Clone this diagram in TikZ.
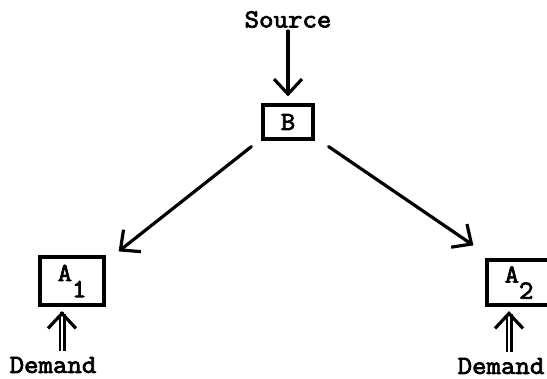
\documentclass[tikz,border=0pt]{standalone}
\usepackage{fontspec}
\usetikzlibrary{arrows.meta}
% typewriter-style lettering
\newfontfamily\typewriter{Latin Modern Mono}[FakeBold=3, FakeStretch=1.08]

\tikzset{
  lbl/.style={font=\typewriter\fontsize{26}{26}\selectfont, inner sep=0pt},
  framebox/.style={lbl, draw, line width=3.2pt},
  flow/.style={line width=3.2pt, line cap=round,
    -{Straight Barb[length=15pt, width=28pt, line width=3.2pt]}},
  demandflow/.style={double, double distance=2.6pt, line width=2.2pt,
    shorten <=6pt, shorten >=7pt,
    postaction={draw, line width=3.2pt, shorten <=45pt, shorten >=4.5pt,
      -{Straight Barb[length=15pt, width=28pt, line width=3.2pt]}}},
}

\newcommand{\lowered}[1]{\raisebox{-0.62em}{#1}}

\begin{document}
\begin{tikzpicture}[x=1pt, y=-1pt]
  \useasboundingbox (0,0) rectangle (547,379);
  \clip (0,0) rectangle (547,379);

  % nodes
  \node[lbl] (src) at (288,19.5) {Source};
  \node[framebox, minimum width=50pt, minimum height=34pt] (b) at (288,122) {B};
  \node[framebox, minimum width=64pt, minimum height=48pt] (a1) at (72,281) {A\lowered{1}};
  \node[framebox, minimum width=64pt, minimum height=45pt] (a2) at (519,282.5) {A\lowered{2}};
  \node[lbl] (d1) at (53,365) {Demand};
  \node[lbl] (d2) at (501,366) {Demand};

  % supply flows
  \draw[flow, shorten <=3pt, shorten >=7pt] (src.south) -- (b.north);
  \draw[flow] ([shift={(-10,6)}]b.south west) -- ([shift={(13,-4)}]a1.north east);
  \draw[flow] ([shift={(14,6)}]b.south east) -- ([shift={(-12,-13)}]a2.north west);

  % demand flows
  \draw[demandflow] ([xshift=9pt]d1.north) -- ([xshift=-10pt]a1.south);
  \draw[demandflow] ([xshift=8pt]d2.north) -- ([xshift=-10pt]a2.south);
\end{tikzpicture}
\end{document}
